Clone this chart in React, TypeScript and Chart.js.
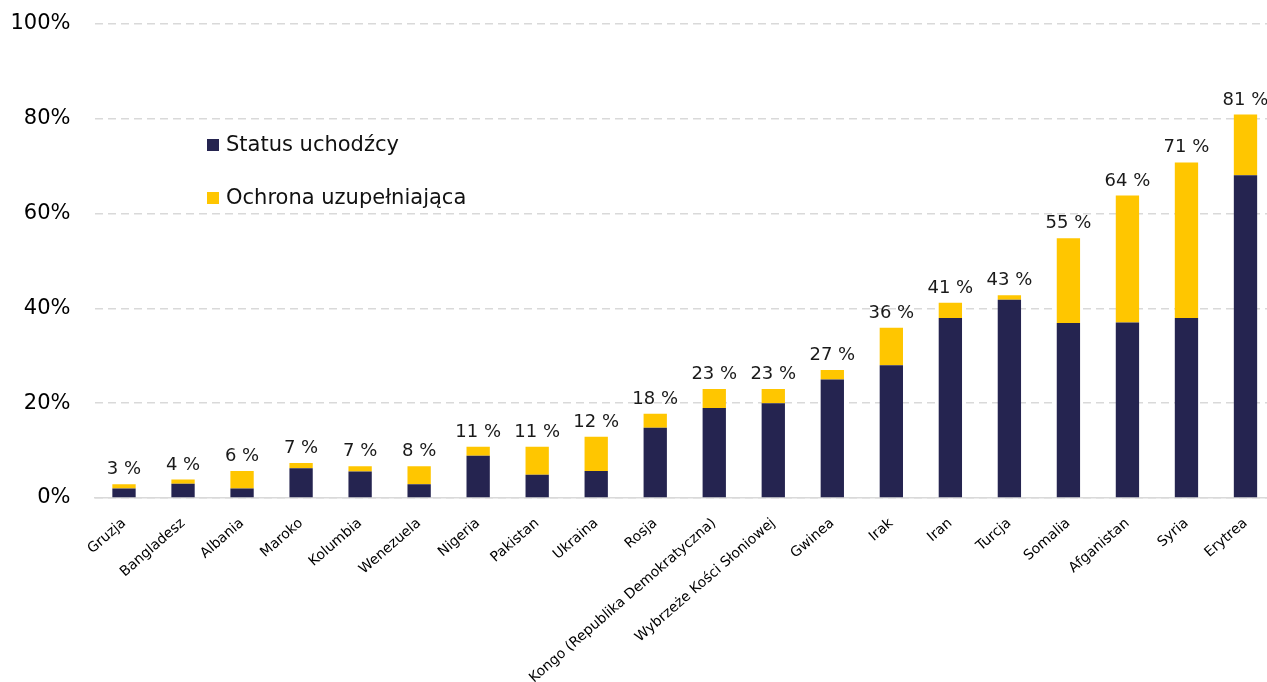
import React, { useEffect, useRef } from 'react';
import { Chart, registerables } from 'chart.js';

Chart.register(...registerables);

const categories = [
  'Gruzja', 'Bangladesz', 'Albania', 'Maroko', 'Kolumbia', 'Wenezuela', 'Nigeria', 'Pakistan',
  'Ukraina', 'Rosja', 'Kongo (Republika Demokratyczna)', 'Wybrzeże Kości Słoniowej', 'Gwinea',
  'Irak', 'Iran', 'Turcja', 'Somalia', 'Afganistan', 'Syria', 'Erytrea',
];
const refugeeStatus = [2, 3, 2, 6.3, 5.6, 2.9, 8.9, 4.9, 5.7, 14.8, 19, 20, 25, 28, 38, 41.8, 36.9, 37, 38, 68.1];
const subsidiaryProtection = [0.9, 0.9, 3.7, 1.1, 1.1, 3.8, 1.9, 5.9, 7.2, 3.0, 4, 3, 2, 7.9, 3.2, 1, 17.9, 26.8, 32.8, 12.8];
const totalLabels = ['3 %', '4 %', '6 %', '7 %', '7 %', '8 %', '11 %', '11 %', '12 %', '18 %', '23 %', '23 %', '27 %', '36 %', '41 %', '43 %', '55 %', '64 %', '71 %', '81 %'];
const seriesNames = ['Status uchodźcy', 'Ochrona uzupełniająca'];
const seriesColors = ['#252450', '#FFC600'];
const yTicks = [0, 20, 40, 60, 80, 100];

const FONT = '"DejaVu Sans", Verdana, sans-serif';

const totalsPlugin = {
  id: 'totalsPlugin',
  afterDatasetsDraw(chart: any) {
    const ctx = chart.ctx;
    const meta = chart.getDatasetMeta(1);
    ctx.save();
    ctx.font = `18px ${FONT}`;
    ctx.fillStyle = '#1a1a1a';
    ctx.textAlign = 'center';
    ctx.textBaseline = 'alphabetic';
    meta.data.forEach((bar: any, i: number) => {
      ctx.fillText(totalLabels[i], bar.x, bar.y - 10);
    });
    ctx.restore();
  },
};

const legendPlugin = {
  id: 'insideLegend',
  afterDraw(chart: any) {
    const ctx = chart.ctx;
    ctx.save();
    ctx.font = `21px ${FONT}`;
    ctx.textAlign = 'left';
    ctx.textBaseline = 'alphabetic';
    const rows = [151, 204];
    chart.data.datasets.forEach((ds: any, i: number) => {
      const base = rows[i];
      ctx.fillStyle = ds.backgroundColor;
      ctx.fillRect(207, base - 12, 12, 12);
      ctx.fillStyle = '#111';
      ctx.fillText(ds.label, 226, base);
    });
    ctx.restore();
  },
};

export default function App() {
  const canvasRef = useRef<HTMLCanvasElement | null>(null);

  useEffect(() => {
    if (!canvasRef.current) return;
    const chart = new Chart(canvasRef.current, {
      type: 'bar',
      data: {
        labels: categories,
        datasets: [
          {
            label: seriesNames[0],
            data: refugeeStatus,
            backgroundColor: seriesColors[0],
            barPercentage: 0.395,
            categoryPercentage: 1,
          },
          {
            label: seriesNames[1],
            data: subsidiaryProtection,
            backgroundColor: seriesColors[1],
            barPercentage: 0.395,
            categoryPercentage: 1,
          },
        ],
      },
      options: {
        responsive: false,
        animation: false,
        layout: { padding: { top: 24, left: 0, right: 0, bottom: 0 } },
        plugins: {
          legend: { display: false },
          tooltip: { enabled: false },
        },
        scales: {
          x: {
            stacked: true,
            grid: { display: false },
            border: { display: true, color: '#D9D9D9', width: 1.5 },
            ticks: {
              autoSkip: false,
              maxRotation: 41,
              minRotation: 41,
              padding: 9,
              color: '#000',
              font: { family: FONT, size: 14 },
            },
            afterFit: (scale: any) => {
              scale.height = 184;
            },
          },
          y: {
            stacked: true,
            min: yTicks[0],
            max: yTicks[yTicks.length - 1],
            afterBuildTicks: (scale: any) => {
              scale.ticks = yTicks.map((v) => ({ value: v }));
            },
            grid: {
              color: '#D9D9D9',
              lineWidth: 1.5,
              drawTicks: true,
              tickLength: 13,
              tickColor: 'rgba(0,0,0,0)',
            },
            border: { display: false, dash: [8, 5] },
            ticks: {
              padding: 11,
              color: '#000',
              font: { family: FONT, size: 21 },
              callback: (v: any) => `${v}%`,
            },
            afterFit: (scale: any) => {
              scale.width = 94.5;
            },
          },
        },
      },
      plugins: [totalsPlugin, legendPlugin],
    });
    return () => chart.destroy();
  }, []);

  return (
    <div
      style={{
        position: 'fixed',
        left: 0,
        top: 0,
        width: 1267,
        height: 682,
        overflow: 'hidden',
        background: '#fff',
      }}
    >
      <canvas ref={canvasRef} width={1275} height={682} style={{ display: 'block' }} />
    </div>
  );
}
